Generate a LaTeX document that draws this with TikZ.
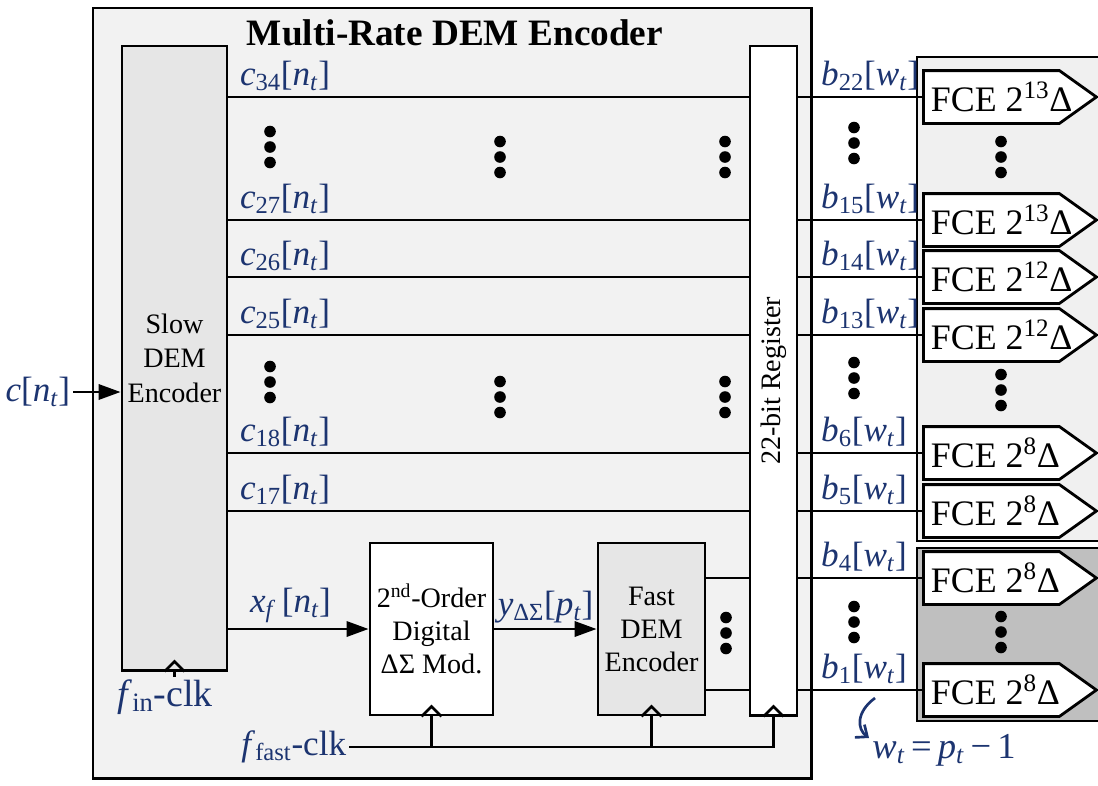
\documentclass[tikz,border=0pt]{standalone}
\usepackage{fontspec}
\setmainfont{Liberation Serif}
\usetikzlibrary{arrows.meta}

\definecolor{sigblue}{RGB}{28,52,112}
\definecolor{outergray}{RGB}{242,242,242}
\definecolor{boxgray}{RGB}{230,230,230}
\definecolor{panelgray}{RGB}{240,240,240}
\definecolor{darkpanel}{RGB}{191,191,191}

\newcommand{\sigfont}{\fontsize{25}{30}\selectfont}
\newcommand{\boxfont}{\fontsize{20}{23.5}\selectfont}
\newcommand{\sigl}[3]{\textit{#1}\textsubscript{#2}[\textit{#3}\textsubscript{\textit{t}}]}

\tikzset{
  dotcol/.pic={\foreach \d in {-15.5,0,15.5} \fill (0,\d) circle (0.145cm);},
  clkmark/.pic={\draw[line width=1.9pt] (-10,0) -- (0,-10) -- (10,0);}
}

\begin{document}
\begin{tikzpicture}[x=0.025cm, y=-0.025cm, line width=2pt,
    block/.style={draw, rectangle, inner sep=0pt, align=center, font=\boxfont},
    fcebox/.style={rectangle, minimum width=4.25cm, minimum height=1.25cm, inner sep=0pt},
    fcetext/.style={inner xsep=0.15cm, inner ysep=0pt, font=\fontsize{25.5}{30}\selectfont},
    lbl/.style={text=sigblue, font=\sigfont, inner sep=1pt},
    arr/.style={-{Triangle[length=0.55cm,width=0.38cm]}}]

  \useasboundingbox (0,0) rectangle (1098,785);

  % outer encoder box and the two FCE panels
  \node[block, fill=outergray, minimum width=17.95cm, minimum height=19.25cm] (encoder) at (452,393) {};
  \node[font=\fontsize{26.5}{30}\bfseries\selectfont] (title) at (455,33) {Multi-Rate DEM Encoder};
  \fill[panelgray] (917,57) rectangle (1098,541);
  \draw (1098,57) -- (917,57) -- (917,541) -- (1098,541);
  \fill[darkpanel] (917,548) rectangle (1098,721);
  \draw (1098,548) -- (917,548) -- (917,721) -- (1098,721);

  % blocks
  \node[block, fill=boxgray, minimum width=2.625cm, minimum height=15.6cm, font=\fontsize{20}{24.5}\selectfont] (slow) at (174.5,358) {Slow\\DEM\\Encoder};
  \node[block, fill=white, minimum width=3.075cm, minimum height=4.3cm] (mod) at (431.5,629) {2\textsuperscript{nd}-Order\\Digital\\ΔΣ Mod.};
  \node[block, fill=boxgray, minimum width=2.675cm, minimum height=4.3cm] (fast) at (651.5,629) {Fast\\DEM\\Encoder};
  \node[block, fill=white, minimum width=1.175cm, minimum height=16.725cm] (reg) at (773.5,380.5) {};
  \node[rotate=90, font=\boxfont] (regtext) at (774,381) {22-bit Register};

  % slow encoder outputs
  \foreach \y/\n in {97/34, 220/27, 277/26, 335/25, 453/18, 511/17}
    \draw (slow.east |- 0,\y) -- (reg.west |- 0,\y)
      node[lbl, pos=0, anchor=south west, xshift=0.22cm, yshift=0.08cm] {\sigl{c}{\n}{n}};

  % FCEs
  \foreach \n/\y/\e in {22/97/13, 15/220/13, 14/277/12, 13/335/12, 6/453/8, 5/511/8, 4/578/8, 1/690/8} {
    \node[fcebox] (fce\n) at (1010,\y) {};
    \filldraw[fill=white] (fce\n.north west) -- ([xshift=-0.925cm]fce\n.north east) -- (fce\n.east)
      -- ([xshift=-0.925cm]fce\n.south east) -- (fce\n.south west) -- cycle;
    \node[fcetext, anchor=west] at (fce\n.west) {FCE 2\textsuperscript{\e}Δ};
    \draw (reg.east |- fce\n.west) -- (fce\n.west)
      node[lbl, pos=0, anchor=south west, xshift=0.5cm, yshift=0.08cm] {\sigl{b}{\n}{w}};
  }
  \draw (fast.east |- fce4.west) -- (reg.west |- fce4.west);
  \draw (fast.east |- fce1.west) -- (reg.west |- fce1.west);

  % dots
  \pic at (270,147) {dotcol};
  \pic at (500,157) {dotcol};
  \pic at (725,157) {dotcol};
  \pic at (270,382) {dotcol};
  \pic at (500,397) {dotcol};
  \pic at (725,397) {dotcol};
  \pic at (726,633) {dotcol};
  \pic at (854,143) {dotcol};
  \pic at (854,378) {dotcol};
  \pic at (854,622) {dotcol};
  \pic at (1001,157) {dotcol};
  \pic at (1001,390) {dotcol};
  \pic at (1001,632) {dotcol};

  % signal path
  \node[lbl, anchor=east] (cin) at (73,392) {\textit{c}[\textit{n}\textsubscript{\textit{t}}]};
  \draw[arr] (cin.east) -- (slow.west |- cin.east);
  \draw[arr] (slow.east |- mod.west) -- node[lbl, above, yshift=0.08cm, xshift=-0.2cm] {\textit{x}\textsubscript{\textit{f}}\,[\textit{n}\textsubscript{\textit{t}}]} (mod.west);
  \draw[arr] (mod.east) -- node[lbl, above, yshift=0.08cm] {\textit{y}\textsubscript{ΔΣ}[\textit{p}\textsubscript{\textit{t}}]} (fast.west);

  % clocks
  \node[lbl, font=\fontsize{27}{30}\selectfont] (finclk) at (165,697) {\textit{f}\textsubscript{in}-clk};
  \draw (finclk.north -| slow.south) -- (slow.south);
  \node[lbl, anchor=east] (ffclk) at (349,747) {\textit{f}\textsubscript{fast}-clk};
  \draw (ffclk.east) -- (ffclk.east -| reg.south) -- (reg.south);
  \draw (mod.south) -- (mod.south |- ffclk.east);
  \draw (fast.south) -- (fast.south |- ffclk.east);
  \pic at (slow.south) {clkmark};
  \pic at (mod.south) {clkmark};
  \pic at (fast.south) {clkmark};
  \pic at (reg.south) {clkmark};

  % index relation
  \node[lbl, font=\fontsize{26}{30}\selectfont] (wt) at (944,750) {\textit{w}\textsubscript{\textit{t}}\,=\,\textit{p}\textsubscript{\textit{t}}\,−\,1};
  \coordinate (wtop) at (875,698);
  \coordinate (wbot) at (869,738);
  \draw[sigblue, line width=1.9pt, -{Straight Barb[length=0.24cm,width=0.4cm]}] (wtop) .. controls (856,712) and (857,729) .. (wbot);
\end{tikzpicture}
\end{document}
